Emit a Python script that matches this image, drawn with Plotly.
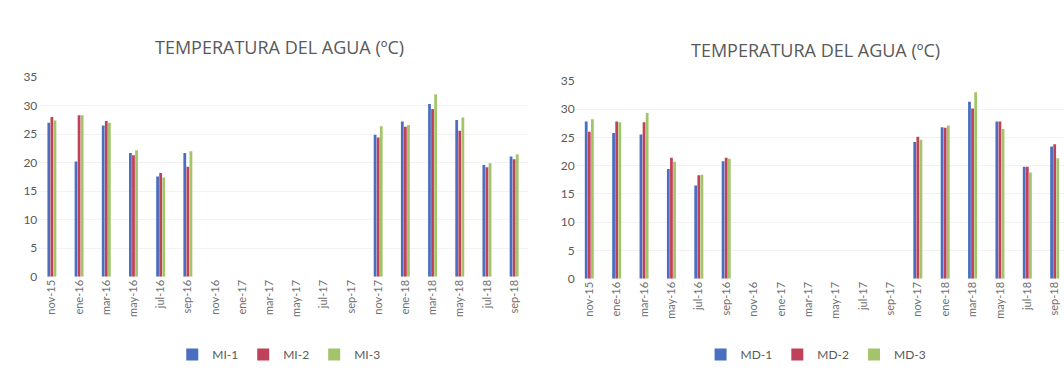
import plotly.graph_objects as go

# Sampling months (18 categories)
months = ["nov-15", "ene-16", "mar-16", "may-16", "jul-16", "sep-16",
          "nov-16", "ene-17", "mar-17", "may-17", "jul-17", "sep-17",
          "nov-17", "ene-18", "mar-18", "may-18", "jul-18", "sep-18"]

# Left margin stations (MI); None = no measurement
mi_1 = [27.0, 20.2, 26.5, 21.7, 17.6, 21.7, None, None, None, None, None, None, 24.9, 27.2, 30.3, 27.5, 19.6, 21.1]
mi_2 = [28.0, 28.3, 27.3, 21.3, 18.2, 19.3, None, None, None, None, None, None, 24.4, 26.3, 29.4, 25.6, 19.2, 20.6]
mi_3 = [27.4, 28.3, 27.0, 22.2, 17.4, 22.0, None, None, None, None, None, None, 26.4, 26.6, 32.0, 27.9, 19.9, 21.5]

# Right margin stations (MD)
md_1 = [27.8, 25.8, 25.5, 19.4, 16.5, 20.8, None, None, None, None, None, None, 24.2, 26.8, 31.3, 27.8, 19.8, 23.4]
md_2 = [26.0, 27.8, 27.7, 21.4, 18.3, 21.4, None, None, None, None, None, None, 25.1, 26.7, 30.1, 27.8, 19.8, 23.8]
md_3 = [28.2, 27.7, 29.3, 20.7, 18.4, 21.2, None, None, None, None, None, None, 24.6, 27.1, 33.0, 26.5, 18.8, 21.3]

y_ticks = [0, 5, 10, 15, 20, 25, 30, 35]
title_text = "TEMPERATURA DEL AGUA (ºC)"

BLUE = "#4a6fc0"
RED = "#c0425a"
GREEN = "#a3c46a"
TXT = "#595959"
FONT = "Lato"
TITLE_FONT = "Open Sans"

fig = go.Figure()

for name, vals, col in [("MI-1", mi_1, BLUE), ("MI-2", mi_2, RED), ("MI-3", mi_3, GREEN)]:
    fig.add_trace(go.Bar(x=months, y=vals, name=name, marker_color=col,
                         marker_line_width=0, xaxis="x", yaxis="y", legend="legend"))

for name, vals, col in [("MD-1", md_1, BLUE), ("MD-2", md_2, RED), ("MD-3", md_3, GREEN)]:
    fig.add_trace(go.Bar(x=months, y=vals, name=name, marker_color=col,
                         marker_line_width=0, xaxis="x2", yaxis="y2", legend="legend2"))

axis_x = dict(type="category", tickangle=-90, showgrid=False, zeroline=False,
              showline=False, ticks="", tickfont=dict(family=FONT, size=11, color="#707070"))
axis_y = dict(range=[0, 35], tickvals=y_ticks, showgrid=True, gridcolor="#f2f2f2",
              gridwidth=1, zeroline=False, showline=False, ticks="",
              tickfont=dict(family=FONT, size=12, color=TXT))

legend_common = dict(orientation="h", yanchor="middle", xanchor="center",
                     font=dict(family=FONT, size=12, color=TXT), itemwidth=30,
                     bgcolor="rgba(0,0,0,0)")

fig.update_layout(
    width=1064, height=374,
    margin=dict(l=0, r=0, t=0, b=0),
    paper_bgcolor="white", plot_bgcolor="white",
    barmode="group", bargap=0.66, bargroupgap=0.1,
    xaxis=dict(axis_x, domain=[0.036, 0.496], anchor="y", range=[-0.5, 17.5]),
    yaxis=dict(axis_y, domain=[0.2513, 0.8075], anchor="x"),
    xaxis2=dict(axis_x, domain=[0.541, 1.0], anchor="y2", range=[-0.5, 17.34]),
    yaxis2=dict(axis_y, domain=[0.246, 0.797], anchor="x2"),
    legend=dict(legend_common, x=0.262, y=0.035),
    legend2=dict(legend_common, x=0.767, y=0.035),
    annotations=[
        dict(text=title_text, x=279 / 1064, y=1 - 41 / 374, xref="paper", yref="paper",
             showarrow=False, xanchor="center", yanchor="middle",
             font=dict(family=TITLE_FONT, size=18, color=TXT)),
        dict(text=title_text, x=815 / 1064, y=1 - 44 / 374, xref="paper", yref="paper",
             showarrow=False, xanchor="center", yanchor="middle",
             font=dict(family=TITLE_FONT, size=18, color=TXT)),
    ],
)

fig.write_html("out.html")
